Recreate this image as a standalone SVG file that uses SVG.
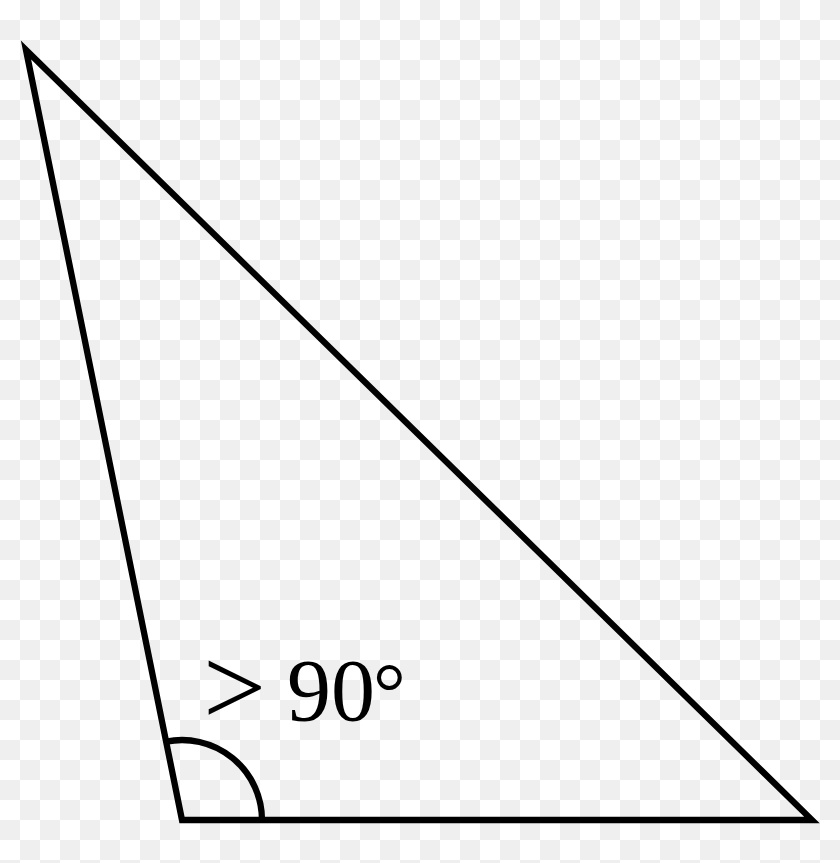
<svg xmlns="http://www.w3.org/2000/svg" width="840" height="863" viewBox="0 0 840 863">
<defs>
<pattern id="checker" x="0" y="0" width="40" height="40" patternUnits="userSpaceOnUse">
<rect x="0" y="0" width="40" height="40" fill="#ffffff"/>
<rect x="20" y="0" width="20" height="20" fill="#efefef"/>
<rect x="0" y="20" width="20" height="20" fill="#efefef"/>
</pattern>
</defs>
<style>
.edge{fill:none;stroke:#000;stroke-width:6.3;stroke-linejoin:miter;stroke-miterlimit:10}
.lbl{font-family:"Liberation Serif","DejaVu Serif",serif;font-size:88px;fill:#000}
</style>
<rect width="840" height="863" fill="url(#checker)"/>
<g id="triangle">
<path class="edge" d="M26,50 L182,820 L812,820 Z"/>
</g>
<g id="angle-mark">
<path class="edge" d="M262,820 A80,80 0 0 0 166.2,741.6"/>
</g>
<g id="label">
<text class="lbl" y="720"><tspan x="203" y="725" font-size="112">&gt;</tspan><tspan x="287" y="720">90</tspan><tspan x="373" y="720" font-size="82">°</tspan></text>
</g>
</svg>
